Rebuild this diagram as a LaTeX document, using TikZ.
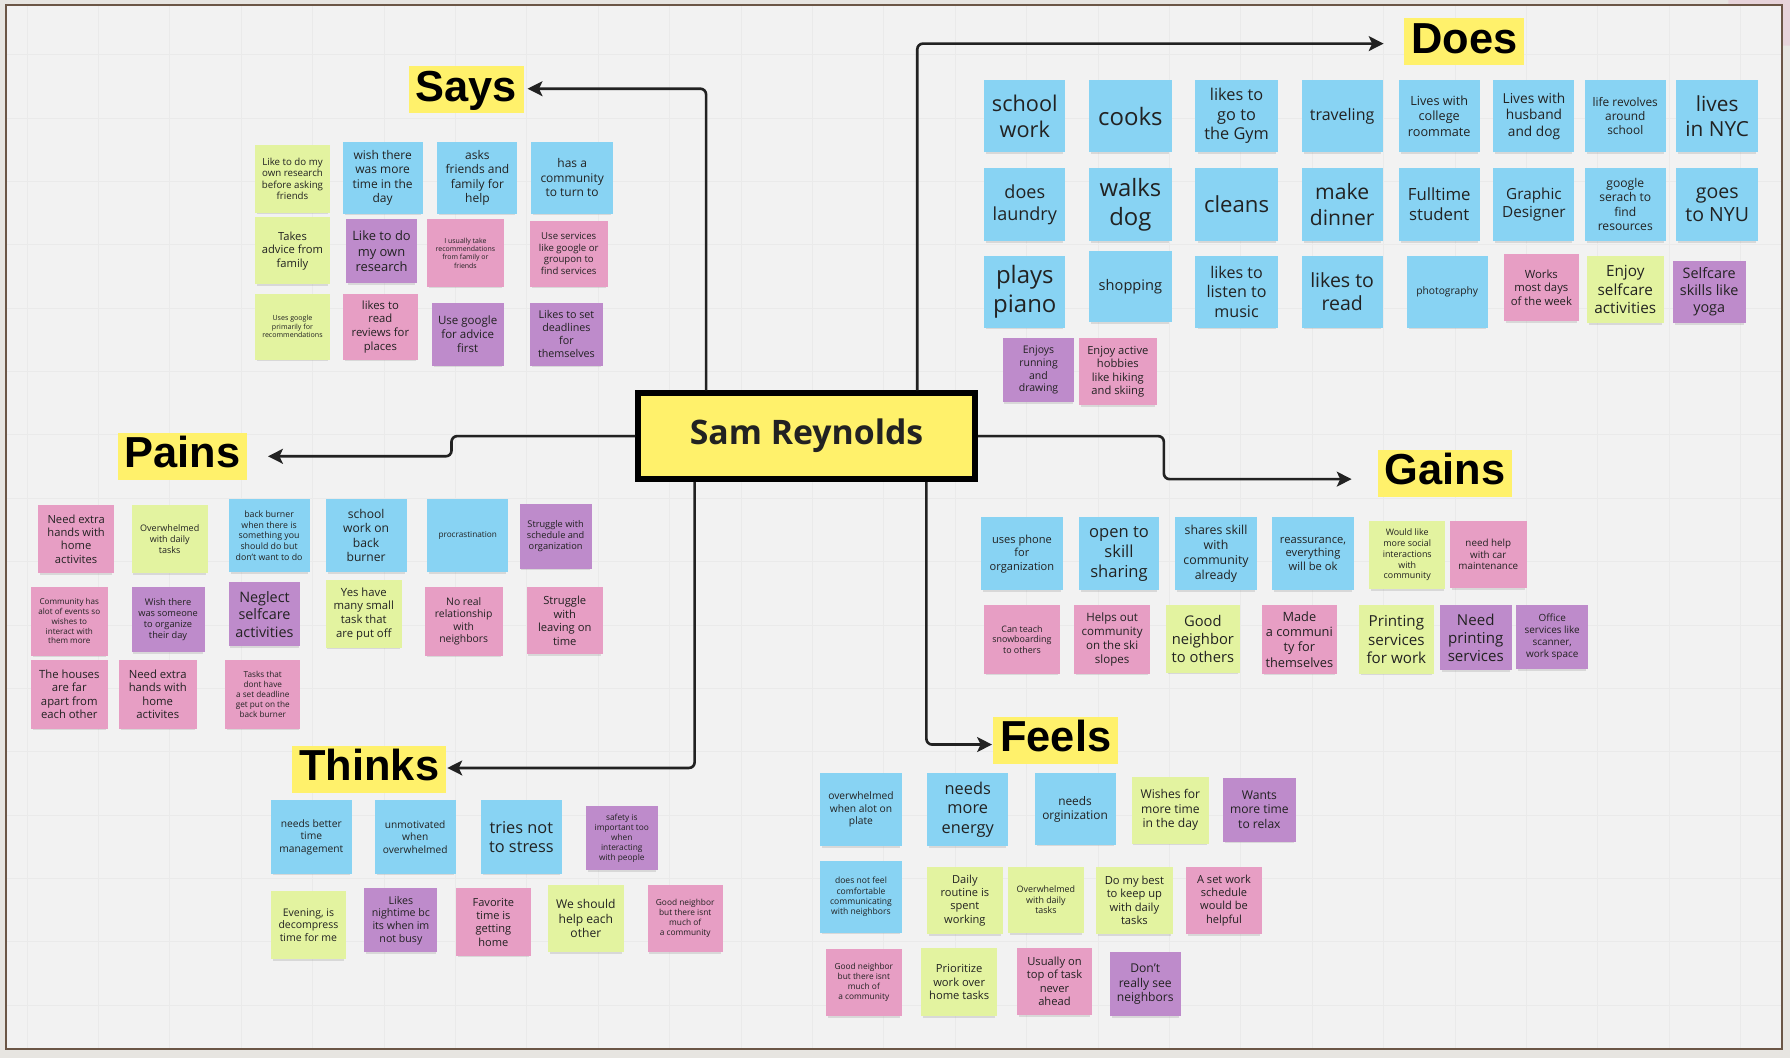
\documentclass[tikz,border=0pt]{standalone}
\usepackage{fontspec}
\setmainfont{Open Sans}
\newfontfamily\tagfont{Liberation Sans}
\usepackage{tikz}
\usetikzlibrary{arrows.meta,shadows}

\definecolor{bg}{HTML}{F2F2F2}
\definecolor{gridline}{HTML}{EAEAEA}
\definecolor{frame}{HTML}{6B5646}
\definecolor{outside}{HTML}{E7E5E1}
\definecolor{blu}{HTML}{88D3F3}
\definecolor{grn}{HTML}{E3F3A0}
\definecolor{pnk}{HTML}{E79EC4}
\definecolor{pur}{HTML}{BE8BCB}
\definecolor{yel}{HTML}{FFF16B}
\definecolor{ink}{HTML}{222222}

\newcommand\fsz[1]{\fontsize{#1}{\fpeval{1.2*#1}}\selectfont}

\begin{document}
\begin{tikzpicture}[x=1pt, y=-1pt,
    sticky/.style={rectangle, anchor=north west, align=center, inner sep=1pt, text=ink,
      drop shadow={shadow xshift=0pt, shadow yshift=-3pt, shadow scale=0.95, opacity=.22}},
    note/.style n args={3}{sticky, fill=#1, minimum width=#2, minimum height=#3},
    tag/.style={rectangle, anchor=north west, fill=yel, text=black, inner xsep=6pt, inner ysep=2.5pt,
      text height=28pt, text depth=8pt, font=\tagfont\fontsize{38}{38}\selectfont\bfseries},
    link/.style={draw=ink, line width=2.3pt, rounded corners=5pt,
      -{Stealth[length=13pt, width=13pt, inset=3pt]}}]

  % canvas
  \useasboundingbox (0,0) rectangle (1568,927);
  \fill[outside] (0,0) rectangle (1568,927);
  \fill[pnk!25!outside] (1514,0) rectangle (1568,4.4) (1561,0) rectangle (1568,40);
  \fill[bg] (5.3,4.4) rectangle (1561,919);
  \foreach \gx in {0,...,24} \draw[gridline, line width=0.8pt] (23.65+62.55*\gx,4.4) -- (23.65+62.55*\gx,919);
  \foreach \gy in {0,...,15} \draw[gridline, line width=0.8pt] (5.3,48+55.5*\gy) -- (1561,48+55.5*\gy);
  \draw[frame, line width=2pt] (5.3,4.4) rectangle (1561,919);

  % center and headings
  \node[rectangle, fill=yel, draw=black, line width=5pt, minimum width=295, minimum height=75,
        font=\fontsize{29.6}{32}\selectfont\bfseries, text=ink] (hub) at (706.5,382) {Sam Reynolds};
  \node[tag] (says) at (358,58) {Says};
  \node[tag] (does) at (1230,16) {Does};
  \node[tag] (pains) at (103,379) {Pains};
  \node[tag] (gains) at (1207,394) {Gains};
  \node[tag] (thinks) at (256,653) {Thinks};
  \node[tag] (feels) at (870,628) {Feels};

  \draw[link, shorten >=3pt] ([xshift=62pt]hub.north west) |- ([yshift=1pt]says.east);
  \draw[link, shorten >=18pt] ([xshift=247pt]hub.north west) |- ([yshift=-1.5pt]does.west);
  \draw[link, shorten >=18pt] (hub.west) -- ++(-161pt,0pt) |- (pains.east);
  \draw[link, shorten >=23pt] (hub.east) -- ++(163pt,0pt) |- ([yshift=-5pt]gains.west);
  \draw[link, shorten >=1pt] ([xshift=52pt]hub.south west) |- ([yshift=1pt]thinks.east);
  \draw[link, shorten >=1pt] ([xshift=255pt]hub.south west) |- ([yshift=-3.5pt]feels.west);

  % Says
  \node[note={grn}{66}{59}, font=\fsz{8.5}] (says1) at (223,127) {Like to do my\\own research\\before asking\\friends};
  \node[note={blu}{70}{63}, font=\fsz{10.5}] (says2) at (300,124) {wish there\\was more\\time in the\\day};
  \node[note={blu}{70}{63}, font=\fsz{10.5}] (says3) at (383,124) {asks\\friends and\\family for\\help};
  \node[note={blu}{72}{63}, font=\fsz{10.5}] (says4) at (465,124) {has a\\community\\to turn to};
  \node[note={grn}{66}{59}, font=\fsz{9.8}] (says5) at (223,190) {Takes\\advice from\\family};
  \node[note={pur}{62}{56}, font=\fsz{11.3}] (says6) at (303,192) {Like to do\\my own\\research};
  \node[note={pnk}{67}{59}, font=\fsz{6.1}] (says7) at (374,192) {I usually take\\recommendations\\from family or\\friends};
  \node[note={pnk}{68}{58}, font=\fsz{8.4}] (says8) at (464,193) {Use services\\like google or\\groupon to\\find services};
  \node[note={grn}{66}{58}, font=\fsz{6.2}] (says9) at (223,257) {Uses google\\primarily for\\recommendations};
  \node[note={pnk}{66}{58}, font=\fsz{9.9}] (says10) at (300,257) {likes to\\read\\reviews for\\places};
  \node[note={pur}{63}{55}, font=\fsz{10.1}] (says11) at (378,265) {Use google\\for advice\\first};
  \node[note={pur}{64}{55}, font=\fsz{9.4}] (says12) at (464,265) {Likes to set\\deadlines\\for\\themselves};

  % Does
  \node[note={blu}{71}{63}, font=\fsz{19}] (does1) at (862,70) {school\\work};
  \node[note={blu}{72}{63}, font=\fsz{21}] (does2) at (954,70) {cooks};
  \node[note={blu}{72}{63}, font=\fsz{14.3}] (does3) at (1047,70) {likes to\\go to\\the Gym};
  \node[note={blu}{71}{63}, font=\fsz{14}] (does4) at (1140,70) {traveling};
  \node[note={blu}{71}{63}, font=\fsz{11.1}] (does5) at (1225,70) {Lives with\\college\\roommate};
  \node[note={blu}{71}{63}, font=\fsz{12}] (does6) at (1308,70) {Lives with\\husband\\and dog};
  \node[note={blu}{71}{63}, font=\fsz{10.4}] (does7) at (1388,70) {life revolves\\around\\school};
  \node[note={blu}{72}{63}, font=\fsz{18.2}] (does8) at (1468,70) {lives\\in NYC};
  \node[note={blu}{71}{64}, font=\fsz{15.8}] (does9) at (862,147) {does\\laundry};
  \node[note={blu}{72}{64}, font=\fsz{20.9}] (does10) at (954,147) {walks\\dog};
  \node[note={blu}{72}{64}, font=\fsz{19.4}] (does11) at (1047,147) {cleans};
  \node[note={blu}{71}{64}, font=\fsz{18.5}] (does12) at (1140,147) {make\\dinner};
  \node[note={blu}{71}{64}, font=\fsz{14.7}] (does13) at (1225,147) {Fulltime\\student};
  \node[note={blu}{71}{64}, font=\fsz{13.4}] (does14) at (1308,147) {Graphic\\Designer};
  \node[note={blu}{71}{64}, font=\fsz{10.6}] (does15) at (1388,147) {google\\serach to\\find\\resources};
  \node[note={blu}{72}{64}, font=\fsz{17.1}] (does16) at (1468,147) {goes\\to NYU};
  \node[note={blu}{71}{63}, font=\fsz{21}] (does17) at (862,224) {plays\\piano};
  \node[note={blu}{72}{62}, font=\fsz{12.8}] (does18) at (954,220) {shopping};
  \node[note={blu}{72}{63}, font=\fsz{14.1}] (does19) at (1047,224) {likes to\\listen to\\music};
  \node[note={blu}{71}{63}, font=\fsz{17.1}] (does20) at (1140,224) {likes to\\read};
  \node[note={blu}{71}{63}, font=\fsz{9}] (does21) at (1232,224) {photography};
  \node[note={pnk}{66}{59}, font=\fsz{9.9}] (does22) at (1317,222) {Works\\most days\\of the week};
  \node[note={grn}{67}{59}, font=\fsz{13.4}] (does23) at (1390,224) {Enjoy\\selfcare\\activities};
  \node[note={pur}{64}{55}, font=\fsz{12.6}] (does24) at (1465,228) {Selfcare\\skills like\\yoga};
  \node[note={pur}{63}{56}, font=\fsz{9.2}] (does25) at (878,296) {Enjoys\\running\\and\\drawing};
  \node[note={pnk}{68}{59}, font=\fsz{9.8}] (does26) at (945,296) {Enjoy active\\hobbies\\like hiking\\and skiing};

  % Pains
  \node[note={pnk}{67}{60}, font=\fsz{9.8}] (pains1) at (33,442) {Need extra\\hands with\\home\\activites};
  \node[note={grn}{67}{60}, font=\fsz{7.9}] (pains2) at (115,442) {Overwhelmed\\with daily\\tasks};
  \node[note={blu}{71}{64}, font=\fsz{7.7}] (pains3) at (200,437) {back burner\\when there is\\something you\\should do but\\don't want to do};
  \node[note={blu}{71}{64}, font=\fsz{10.6}] (pains4) at (285,437) {school\\work on\\back\\burner};
  \node[note={blu}{71}{64}, font=\fsz{7.2}] (pains5) at (374,437) {procrastination};
  \node[note={pur}{63}{57}, font=\fsz{8.1}] (pains6) at (455,441) {Struggle with\\schedule and\\organization};
  \node[note={pnk}{67}{60}, font=\fsz{7.1}] (pains7) at (27,514) {Community has\\alot of events so\\wishes to\\interact with\\them more};
  \node[note={pur}{64}{57}, font=\fsz{8.1}] (pains8) at (115,514) {Wish there\\was someone\\to organize\\their day};
  \node[note={pur}{63}{56}, font=\fsz{12.6}] (pains9) at (200,510) {Neglect\\selfcare\\activities};
  \node[note={grn}{67}{59}, font=\fsz{9.9}] (pains10) at (285,508) {Yes have\\many small\\task that\\are put off};
  \node[note={pnk}{68}{60}, font=\fsz{9.1}] (pains11) at (372,514) {No real\\relationship\\with\\neighbors};
  \node[note={pnk}{67}{59}, font=\fsz{9.8}] (pains12) at (461,514) {Struggle\\with\\leaving on\\time};
  \node[note={pnk}{67}{60}, font=\fsz{9.9}] (pains13) at (27,578) {The houses\\are far\\apart from\\each other};
  \node[note={pnk}{68}{60}, font=\fsz{9.9}] (pains14) at (104,578) {Need extra\\hands with\\home\\activites};
  \node[note={pnk}{66}{60}, font=\fsz{7.2}] (pains15) at (197,578) {Tasks that\\dont have\\a set deadline\\get put on the\\back burner};

  % Thinks
  \node[note={blu}{71}{64}, font=\fsz{9}] (thinks1) at (237,701) {needs better\\time\\management};
  \node[note={blu}{71}{64}, font=\fsz{8.9}] (thinks2) at (328,701) {unmotivated\\when\\overwhelmed};
  \node[note={blu}{71}{64}, font=\fsz{14.3}] (thinks3) at (421,701) {tries not\\to stress};
  \node[note={pur}{63}{56}, font=\fsz{7.3}] (thinks4) at (513,706) {safety is\\important too\\when\\interacting\\with people};
  \node[note={grn}{66}{60}, font=\fsz{9.2}] (thinks5) at (237,780) {Evening, is\\decompress\\time for me};
  \node[note={pur}{64}{56}, font=\fsz{9.3}] (thinks6) at (319,778) {Likes\\nightime bc\\its when im\\not busy};
  \node[note={pnk}{66}{59}, font=\fsz{9.7}] (thinks7) at (399,778) {Favorite\\time is\\getting\\home};
  \node[note={grn}{66}{59}, font=\fsz{10.6}] (thinks8) at (480,775) {We should\\help each\\other};
  \node[note={pnk}{66}{59}, font=\fsz{7.3}] (thinks9) at (567,775) {Good neighbor\\but there isnt\\much of\\a community};

  % Gains
  \node[note={blu}{72}{64}, font=\fsz{9.7}] (gains1) at (859,453) {uses phone\\for\\organization};
  \node[note={blu}{70}{64}, font=\fsz{14.5}] (gains2) at (945,453) {open to\\skill\\sharing};
  \node[note={blu}{72}{64}, font=\fsz{10.8}] (gains3) at (1029,453) {shares skill\\with\\community\\already};
  \node[note={blu}{72}{64}, font=\fsz{9.8}] (gains4) at (1114,453) {reassurance,\\everything\\will be ok};
  \node[note={grn}{67}{60}, font=\fsz{7.8}] (gains5) at (1199,456) {Would like\\more social\\interactions\\with\\community};
  \node[note={pnk}{67}{59}, font=\fsz{8.6}] (gains6) at (1270,456) {need help\\with car\\maintenance};
  \node[note={pnk}{66}{60}, font=\fsz{7.8}] (gains7) at (862,530) {Can teach\\snowboarding\\to others};
  \node[note={pnk}{66}{60}, font=\fsz{10.1}] (gains8) at (941,530) {Helps out\\community\\on the ski\\slopes};
  \node[note={grn}{65}{59}, font=\fsz{12.9}] (gains9) at (1021,530) {Good\\neighbor\\to others};
  \node[note={pnk}{66}{60}, font=\fsz{11.2}] (gains10) at (1105,530) {Made\\a communi\\ty for\\themselves};
  \node[note={grn}{66}{60}, font=\fsz{13.3}] (gains11) at (1190,530) {Printing\\services\\for work};
  \node[note={pur}{63}{57}, font=\fsz{13.2}] (gains12) at (1261,530) {Need\\printing\\services};
  \node[note={pur}{63}{56}, font=\fsz{8.7}] (gains13) at (1328,530) {Office\\services like\\scanner,\\work space};

  % Feels
  \node[note={blu}{72}{64}, font=\fsz{9}] (feels1) at (718,677) {overwhelmed\\when alot on\\plate};
  \node[note={blu}{71}{64}, font=\fsz{14.3}] (feels2) at (812,677) {needs\\more\\energy};
  \node[note={blu}{71}{63}, font=\fsz{10.4}] (feels3) at (906,677) {needs\\orginization};
  \node[note={grn}{68}{59}, font=\fsz{10.6}] (feels4) at (991,680) {Wishes for\\more time\\in the day};
  \node[note={pur}{64}{56}, font=\fsz{10.6}] (feels5) at (1071,681) {Wants\\more time\\to relax};
  \node[note={blu}{72}{63}, font=\fsz{7.5}] (feels6) at (718,754) {does not feel\\comfortable\\communicating\\with neighbors};
  \node[note={grn}{66}{59}, font=\fsz{9.7}] (feels7) at (812,759) {Daily\\routine is\\spent\\working};
  \node[note={grn}{66}{58}, font=\fsz{7.8}] (feels8) at (883,759) {Overwhelmed\\with daily\\tasks};
  \node[note={grn}{67}{59}, font=\fsz{9.8}] (feels9) at (960,759) {Do my best\\to keep up\\with daily\\tasks};
  \node[note={pnk}{66}{59}, font=\fsz{9.7}] (feels10) at (1039,759) {A set work\\schedule\\would be\\helpful};
  \node[note={pnk}{67}{59}, font=\fsz{7.3}] (feels11) at (723,831) {Good neighbor\\but there isnt\\much of\\a community};
  \node[note={grn}{66}{60}, font=\fsz{9.8}] (feels12) at (807,830) {Prioritize\\work over\\home tasks};
  \node[note={pnk}{65}{59}, font=\fsz{9.8}] (feels13) at (891,830) {Usually on\\top of task\\never\\ahead};
  \node[note={pur}{62}{56}, font=\fsz{10.6}] (feels14) at (972,834) {Don't\\really see\\neighbors};
\end{tikzpicture}
\end{document}
